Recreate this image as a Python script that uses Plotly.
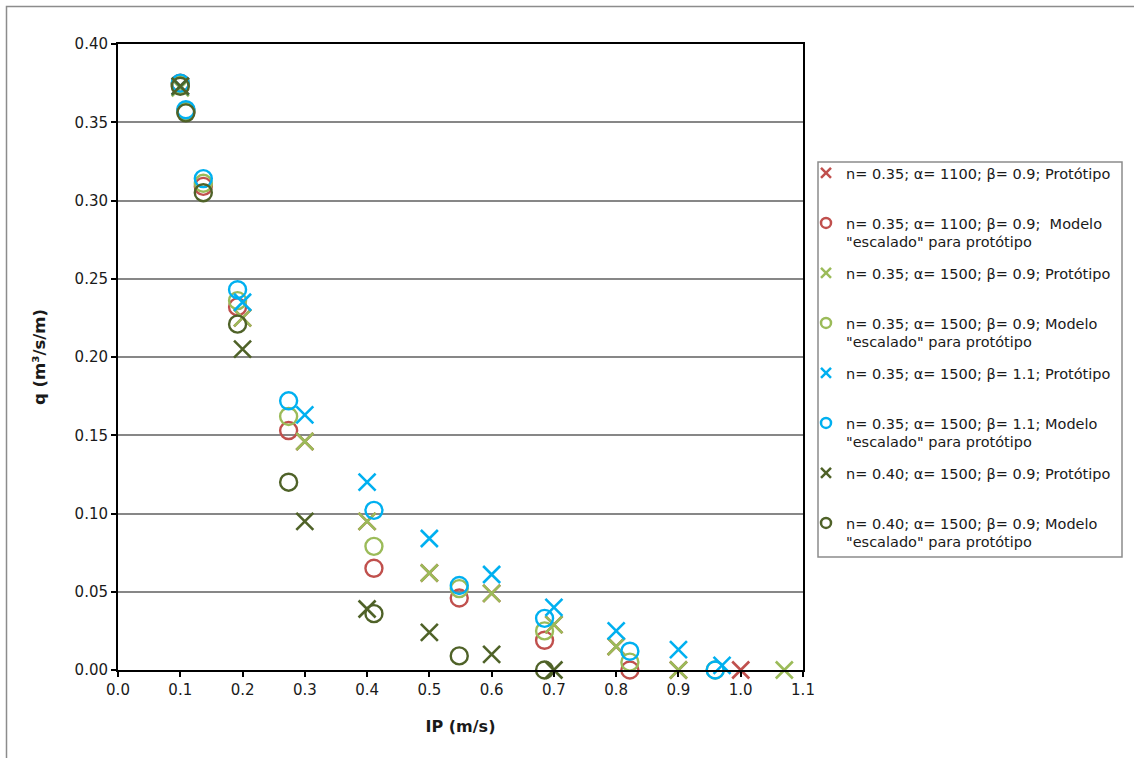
import plotly.graph_objects as go

# ---- data -------------------------------------------------------------
# Prototype runs (IP in m/s, q in m3/s/m)
proto_ip = [0.1, 0.2, 0.3, 0.4, 0.5, 0.6, 0.7, 0.8, 0.9, 1.0]
# Scaled-model runs converted to prototype scale
model_ip = [0.100, 0.109, 0.137, 0.192, 0.274, 0.411, 0.548, 0.685, 0.822, 0.959]

a1100_b09_proto_ip = proto_ip
a1100_b09_proto_q = [0.373, 0.225, 0.146, 0.095, 0.062, 0.049, 0.029, 0.015, 0.000, 0.000]

a1100_b09_model_ip = model_ip[:9]
a1100_b09_model_q = [0.375, 0.357, 0.309, 0.232, 0.153, 0.065, 0.046, 0.019, 0.000]

a1500_b09_proto_ip = [0.1, 0.2, 0.3, 0.4, 0.5, 0.6, 0.7, 0.8, 0.9, 1.07]
a1500_b09_proto_q = [0.372, 0.225, 0.146, 0.095, 0.062, 0.049, 0.029, 0.015, 0.000, 0.000]

a1500_b09_model_ip = model_ip
a1500_b09_model_q = [0.374, 0.357, 0.311, 0.236, 0.162, 0.079, 0.052, 0.025, 0.005, 0.000]

a1500_b11_proto_ip = [0.1, 0.2, 0.3, 0.4, 0.5, 0.6, 0.7, 0.8, 0.9, 0.97]
a1500_b11_proto_q = [0.373, 0.235, 0.163, 0.120, 0.084, 0.061, 0.040, 0.025, 0.013, 0.003]

a1500_b11_model_ip = model_ip
a1500_b11_model_q = [0.375, 0.358, 0.314, 0.243, 0.172, 0.102, 0.054, 0.033, 0.012, 0.000]

n040_proto_ip = proto_ip[:7]
n040_proto_q = [0.373, 0.205, 0.095, 0.039, 0.024, 0.010, 0.000]

n040_model_ip = model_ip[:8]
n040_model_q = [0.373, 0.356, 0.305, 0.221, 0.120, 0.036, 0.009, 0.000]

series = [
    ("n= 0.35; α= 1100; β= 0.9; Protótipo<br> ", a1100_b09_proto_ip, a1100_b09_proto_q, "x", "#C0504D"),
    ("n= 0.35; α= 1100; β= 0.9;\u00a0 Modelo<br>\"escalado\" para protótipo", a1100_b09_model_ip, a1100_b09_model_q, "o", "#C0504D"),
    ("n= 0.35; α= 1500; β= 0.9; Protótipo<br> ", a1500_b09_proto_ip, a1500_b09_proto_q, "x", "#9BBB59"),
    ("n= 0.35; α= 1500; β= 0.9; Modelo<br>\"escalado\" para protótipo", a1500_b09_model_ip, a1500_b09_model_q, "o", "#9BBB59"),
    ("n= 0.35; α= 1500; β= 1.1; Protótipo<br> ", a1500_b11_proto_ip, a1500_b11_proto_q, "x", "#00B0F0"),
    ("n= 0.35; α= 1500; β= 1.1; Modelo<br>\"escalado\" para protótipo", a1500_b11_model_ip, a1500_b11_model_q, "o", "#00B0F0"),
    ("n= 0.40; α= 1500; β= 0.9; Protótipo<br> ", n040_proto_ip, n040_proto_q, "x", "#4F6228"),
    ("n= 0.40; α= 1500; β= 0.9; Modelo<br>\"escalado\" para protótipo", n040_model_ip, n040_model_q, "o", "#4F6228"),
]

x_ticks = [round(0.1 * i, 1) for i in range(12)]
y_ticks = [round(0.05 * i, 2) for i in range(9)]

# ---- figure -------------------------------------------------------------
W, H = 1134, 758
ML, MR, MT, MB = 118, 331, 44, 88
PW, PH = W - ML - MR, H - MT - MB

def px_x(p):
    return (p - ML) / PW

def px_y(p):
    return (H - MB - p) / PH

FONT = "DejaVu Sans"
TXT = "#1a1a1a"

def marker_style(kind, color, size):
    if kind == "x":
        return dict(symbol="x-thin-open", size=size, color=color,
                    line=dict(color=color, width=2.6))
    return dict(symbol="circle-open", size=size, color=color,
                line=dict(color=color, width=2.4))

fig = go.Figure()
for i, (name, xs, ys, kind, color) in enumerate(series):
    fig.add_trace(go.Scatter(
        x=xs, y=ys, mode="markers", name=name,
        marker=marker_style(kind, color, 17),
        cliponaxis=False, legendgroup=f"g{i}", showlegend=False,
    ))
# legend entries use smaller symbols than the plotted markers
for i, (name, xs, ys, kind, color) in enumerate(series):
    fig.add_trace(go.Scatter(
        x=[None], y=[None], mode="markers", name=name,
        marker=marker_style(kind, color, 10) | dict(line=dict(color=color, width=2.5)),
        legendgroup=f"g{i}", showlegend=True,
    ))

axis_common = dict(
    showline=True, linecolor="black", linewidth=2, mirror=True,
    ticks="outside", ticklen=5, tickwidth=1.5, tickcolor="black",
    tickfont=dict(family=FONT, size=15, color=TXT),
    zeroline=False,
)

fig.update_xaxes(
    range=[0, 1.1], tickvals=x_ticks, ticktext=[f"{v:.1f}" for v in x_ticks],
    showgrid=False,
    title=dict(text="<b>IP (m/s)</b>", font=dict(family=FONT, size=16, color=TXT),
               standoff=23),
    **axis_common,
)
fig.update_yaxes(
    range=[0, 0.4], tickvals=y_ticks, ticktext=[f"{v:.2f}" for v in y_ticks],
    showgrid=True, gridcolor="#878787", gridwidth=1.5,
    title=dict(text="<b>q (m³/s/m)</b>", font=dict(family=FONT, size=16.5, color=TXT),
               standoff=25),
    **axis_common,
)

shapes = [
    # outer chart frame
    dict(type="rect", xref="paper", yref="paper",
         x0=px_x(6.5), x1=px_x(1145), y0=px_y(6.5), y1=px_y(775),
         line=dict(color="#8c8c8c", width=1.5), fillcolor="rgba(0,0,0,0)", layer="below"),
    # legend frame
    dict(type="rect", xref="paper", yref="paper",
         x0=px_x(818), x1=px_x(1122), y0=px_y(162), y1=px_y(557),
         line=dict(color="#8c8c8c", width=1.5), fillcolor="rgba(0,0,0,0)", layer="below"),
]

fig.update_layout(
    width=W, height=H,
    margin=dict(l=ML, r=MR, t=MT, b=MB),
    paper_bgcolor="white", plot_bgcolor="white",
    font=dict(family=FONT, color=TXT),
    shapes=shapes,
    showlegend=True,
    legend=dict(
        x=px_x(806), y=px_y(157), xanchor="left", yanchor="top",
        font=dict(family=FONT, size=14.5, color=TXT),
        bgcolor="rgba(0,0,0,0)", borderwidth=0,
        valign="top", tracegroupgap=9.3, itemwidth=30,
    ),
)

fig.write_html("out.html")
